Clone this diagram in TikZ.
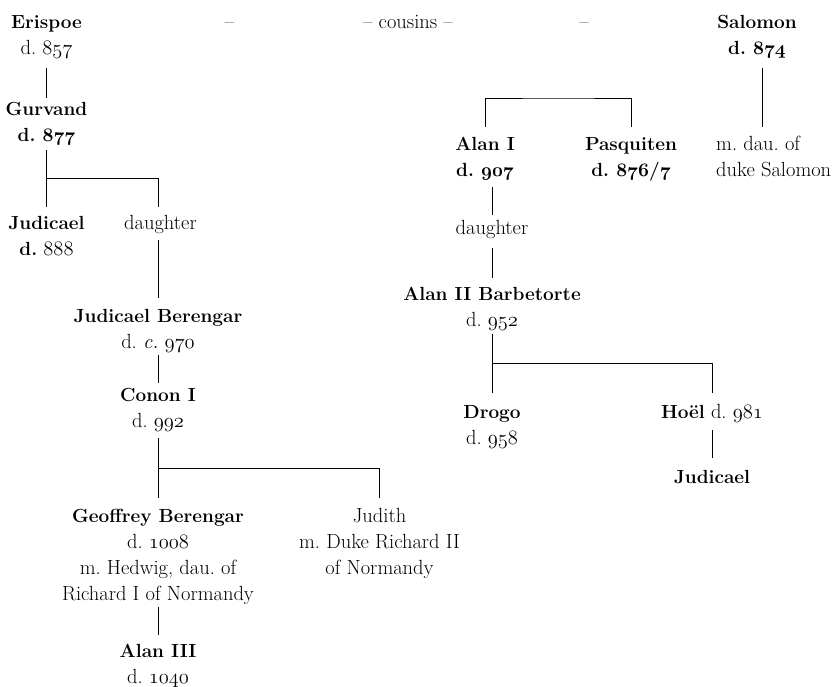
\documentclass[tikz,border=0pt]{standalone}
\usepackage{fix-cm}
\newcommand\osf[1]{{\fontencoding{OML}\fontfamily{cmm}\fontshape{it}\selectfont #1}}
\newcommand\nm[1]{{\fontsize{19}{26}\selectfont\bfseries #1}}
\tikzset{
  person/.style={align=center, inner sep=0pt, anchor=north, font=\fontsize{20.5}{26}\selectfont\frenchspacing},
  dashlbl/.style={inner sep=0pt, anchor=base, font=\fontsize{20.5}{26}\selectfont},
  conn/.style={line width=0.8pt, black}
}
\begin{document}
\begin{tikzpicture}[x=1pt,y=-1pt]
\useasboundingbox (0,0) rectangle (840,686);
% top row
\node[person] (erispoe) at (46.5,9.8) {\strut\nm{Erispoe}\\d. \osf{857}\strut};
\node[dashlbl] (dashA) at (229.5,28) {--};
\node[dashlbl] (cousins) at (408,28) {-- cousins --};
\node[dashlbl] (dashB) at (584,28) {--};
\node[person] (salomon) at (757,9.8) {\strut\nm{Salomon}\\\nm{d. \osf{874}}\strut};
% left branch
\node[person] (gurvand) at (46.5,96.8) {\strut\nm{Gurvand}\\\nm{d. \osf{877}}\strut};
\node[person] (judicaelA) at (46.5,210.8) {\strut\nm{Judicael}\\\nm{d.} \osf{888}\strut};
\node[person] (dauA) at (160.5,210.8) {\strut daughter\strut};
\node[person] (jb) at (158,303.8) {\strut\nm{Judicael Berengar}\\d. \textit{c.} \osf{970}\strut};
\node[person] (conon) at (158,382.8) {\strut\nm{Conon I}\\d. \osf{992}\strut};
\node[person] (geoffrey) at (158,503.8) {\strut\nm{Geoffrey Berengar}\\d. \osf{1008}\\m. Hedwig, dau. of\\Richard I of Normandy\strut};
\node[person] (judith) at (379.5,503.8) {\strut Judith\\m. Duke Richard II\\of Normandy\strut};
\node[person] (alanIII) at (158,638.8) {\strut\nm{Alan III}\\d. \osf{1040}\strut};
% right branch
\node[person] (alanI) at (485,131.8) {\strut\nm{Alan I}\\\nm{d. \osf{907}}\strut};
\node[person] (pasq) at (631,131.8) {\strut\nm{Pasquiten}\\\nm{d. \osf{876}/\osf{7}}\strut};
\node[person, anchor=north west, align=left] (mdau) at (716,131.8) {\strut m. dau. of\\duke Salomon\strut};
\node[person] (dauB) at (492,215.8) {\strut daughter\strut};
\node[person] (alanII) at (492,281.8) {\strut\nm{Alan II Barbetorte}\\d. \osf{952}\strut};
\node[person] (drogo) at (492,399.8) {\strut\nm{Drogo}\\d. \osf{958}\strut};
\node[person] (hoel) at (712,399.8) {\strut\nm{Ho\"el} d. \osf{981}\strut};
\node[person] (judicaelB) at (712,464.8) {\strut\nm{Judicael}\strut};
% connectors left
\coordinate (k1) at (46.5,178);
\coordinate (k3) at (158,468);
\draw[conn] ([yshift=-6pt]erispoe.south) -- ([yshift=-1pt]gurvand.north);
\draw[conn] ([yshift=-1pt]gurvand.south) -- (k1) -| ([yshift=4pt]jb.north |- dauA.north);
\draw[conn] (k1) -- ([yshift=4pt]judicaelA.north);
\draw[conn] ([yshift=-3pt]jb.north |- dauA.south) -- ([yshift=6pt]jb.north);
\draw[conn] ([yshift=1pt]jb.south) -- (conon.north);
\draw[conn] ([yshift=-3pt]conon.south) -- (k3) -| ([yshift=6pt]judith.north);
\draw[conn] (k3) -- ([yshift=6pt]geoffrey.north);
\draw[conn] ([yshift=1pt]geoffrey.south) -- ([yshift=4pt]alanIII.north);
% connectors right
\coordinate (k2) at (558,98);
\coordinate (k4) at (492,363);
\draw[conn] ([xshift=5pt,yshift=-6pt]salomon.south) -- ([xshift=5pt,yshift=5pt]salomon.south |- mdau.north);
\draw[conn] ([yshift=5pt]alanI.north) |- (k2) -| ([yshift=5pt]pasq.north);
\draw[conn] ([yshift=-3pt]dauB.north |- alanI.south) -- ([yshift=1pt]dauB.north);
\draw[conn] ([yshift=-6pt]dauB.south) -- ([yshift=4pt]alanII.north);
\draw[conn] (alanII.south) -- (k4) -| ([yshift=7pt]hoel.north);
\draw[conn] (k4) -- ([yshift=7pt]drogo.north);
\draw[conn] ([yshift=-4pt]hoel.south) -- ([yshift=7pt]judicaelB.north);
\end{tikzpicture}
\end{document}
